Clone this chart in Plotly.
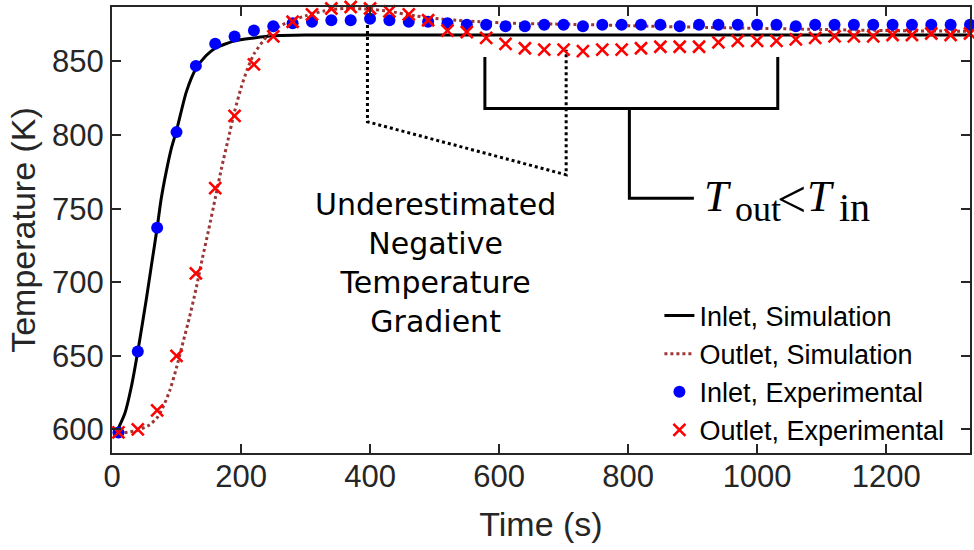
import plotly.graph_objects as go

# ---------------- data ----------------
time_exp = [10, 40, 70, 100, 130, 160, 190, 220, 250, 280, 310, 340, 370, 400, 430,
            460, 490, 520, 550, 580, 610, 640, 670, 700, 730, 760, 790, 820, 850, 880,
            910, 940, 970, 1000, 1030, 1060, 1090, 1120, 1150, 1180, 1210, 1240, 1270,
            1300, 1330]
inlet_exp = [598, 653, 737, 802, 847, 862, 867, 871, 874, 876, 877, 878, 878, 879, 878,
             877, 877, 876, 875, 875, 874, 874, 875, 875, 874, 875, 875, 875, 875, 874,
             875, 875, 875, 875, 875, 874, 875, 875, 875, 875, 875, 875, 875, 875, 875]
outlet_exp = [598, 600, 613, 650, 706, 764, 813, 848, 867, 877, 882, 886, 887, 886, 884,
              882, 878, 871, 870, 866, 862, 859, 858, 858, 857, 858, 858, 859, 860, 860,
              860, 863, 864, 864, 864, 865, 866, 867, 867, 867, 868, 868, 869, 868, 869]

time_sim_in = [8, 20, 30, 40, 53, 62, 70, 76, 84, 92, 100, 115, 130, 146, 160, 190, 220,
               250, 300, 400, 600, 800, 1000, 1200, 1330]
inlet_sim = [599, 611, 629, 653, 688, 714, 737, 756, 775, 791, 803, 829, 845, 854, 859,
             864, 866, 867.5, 868, 868, 868, 868, 868, 868, 868]

time_sim_out = [10, 40, 58, 70, 80, 90, 100, 110, 120, 130, 140, 150, 160, 170, 180, 190,
                200, 210, 220, 240, 260, 280, 300, 330, 360, 400, 430, 470, 517, 570, 620,
                733, 878, 1064, 1200, 1330]
outlet_sim = [597, 599.5, 603, 608, 616, 627, 642, 659, 676, 695, 716, 736, 757, 778, 797,
              816, 832, 845, 855, 867, 874, 878, 881, 884.5, 886, 885.5, 884, 881, 878.5,
              877, 876, 875, 873.5, 872, 871, 870.5]

# annotation geometry (data coordinates)
dotted_guide_x = [396, 396, 704, 704]
dotted_guide_y = [887, 809, 773, 858]
bracket_x = [578, 578, 1032, 1032]
bracket_y = [853, 818, 818, 853]
stem_x = [802, 802, 902]
stem_y = [818, 757, 757]

x_ticks = [0, 200, 400, 600, 800, 1000, 1200]
y_ticks = [600, 650, 700, 750, 800, 850]

brown = "rgb(155,55,55)"
axis_col = "#262626"

fig = go.Figure()

# annotation lines (drawn first, behind data)
fig.add_trace(go.Scatter(x=dotted_guide_x, y=dotted_guide_y, mode="lines",
                         line=dict(color="black", width=3, dash="dot"),
                         showlegend=False, hoverinfo="skip", cliponaxis=False))
fig.add_trace(go.Scatter(x=bracket_x, y=bracket_y, mode="lines",
                         line=dict(color="black", width=3),
                         showlegend=False, hoverinfo="skip"))
fig.add_trace(go.Scatter(x=stem_x, y=stem_y, mode="lines",
                         line=dict(color="black", width=3),
                         showlegend=False, hoverinfo="skip"))

fig.add_trace(go.Scatter(x=time_sim_in, y=inlet_sim, mode="lines", name="Inlet, Simulation",
                         line=dict(color="black", width=3, shape="spline", smoothing=0.6)))
fig.add_trace(go.Scatter(x=time_sim_out, y=outlet_sim, mode="lines", name="Outlet, Simulation",
                         line=dict(color=brown, width=3, dash="dot", shape="spline", smoothing=0.6)))
fig.add_trace(go.Scatter(x=time_exp, y=inlet_exp, mode="markers", name="Inlet, Experimental",
                         marker=dict(color="rgb(0,0,255)", size=12, symbol="circle",
                                     line=dict(width=0)),
                         cliponaxis=False))
fig.add_trace(go.Scatter(x=time_exp, y=outlet_exp, mode="markers", name="Outlet, Experimental",
                         marker=dict(color="rgb(255,0,0)", size=12, symbol="x-thin",
                                     line=dict(color="rgb(255,0,0)", width=2.6)),
                         cliponaxis=False))

fig.add_annotation(x=502, y=713, xref="x", yref="y",
                   text="Underestimated<br>Negative<br>Temperature<br>Gradient",
                   showarrow=False, align="center",
                   font=dict(family="DejaVu Sans", size=30, color="black"))

# T_out < T_in, built from pieces
math_x, math_y = 915, 758
pieces = [("<i>T</i>", 44, 0, 0), ("out", 36, 31, -12), ("&lt;", 52, 73, -3),
          ("<i>T</i>", 44, 103, 0), ("in", 40, 135, -11)]
for txt, sz, dx, dy in pieces:
    fig.add_annotation(x=math_x, y=math_y, xref="x", yref="y", xanchor="left",
                       yanchor="middle", xshift=dx, yshift=dy, text=txt, showarrow=False,
                       font=dict(family="Liberation Serif", size=sz, color="black"))

fig.update_layout(
    width=974, height=550,
    margin=dict(l=112, r=2, t=7, b=97),
    paper_bgcolor="white", plot_bgcolor="white",
    font=dict(family="Liberation Sans, Arial", color=axis_col),
    showlegend=True,
    legend=dict(x=0.638, y=0.362, xanchor="left", yanchor="top",
                bgcolor="rgba(0,0,0,0)", borderwidth=0,
                font=dict(family="Liberation Sans, Arial", size=27, color="black"),
                tracegroupgap=0, itemwidth=30),
)
fig.update_xaxes(range=[0, 1330], tickvals=x_ticks, ticks="inside", ticklen=9,
                 tickwidth=1.5, tickcolor=axis_col, showline=True, linecolor=axis_col,
                 linewidth=2, mirror="ticks", showgrid=False, zeroline=False,
                 tickfont=dict(size=31, color=axis_col), ticklabelstandoff=-5,
                 title=dict(text="Time (s)", font=dict(size=34, color=axis_col), standoff=19))
fig.update_yaxes(range=[584, 887], tickvals=y_ticks, ticks="inside", ticklen=9,
                 tickwidth=1.5, tickcolor=axis_col, showline=True, linecolor=axis_col,
                 linewidth=2, mirror="ticks", showgrid=False, zeroline=False,
                 tickfont=dict(size=31, color=axis_col),
                 title=dict(text="Temperature (K)", font=dict(size=34, color=axis_col), standoff=6))

fig.write_html("out.html")
